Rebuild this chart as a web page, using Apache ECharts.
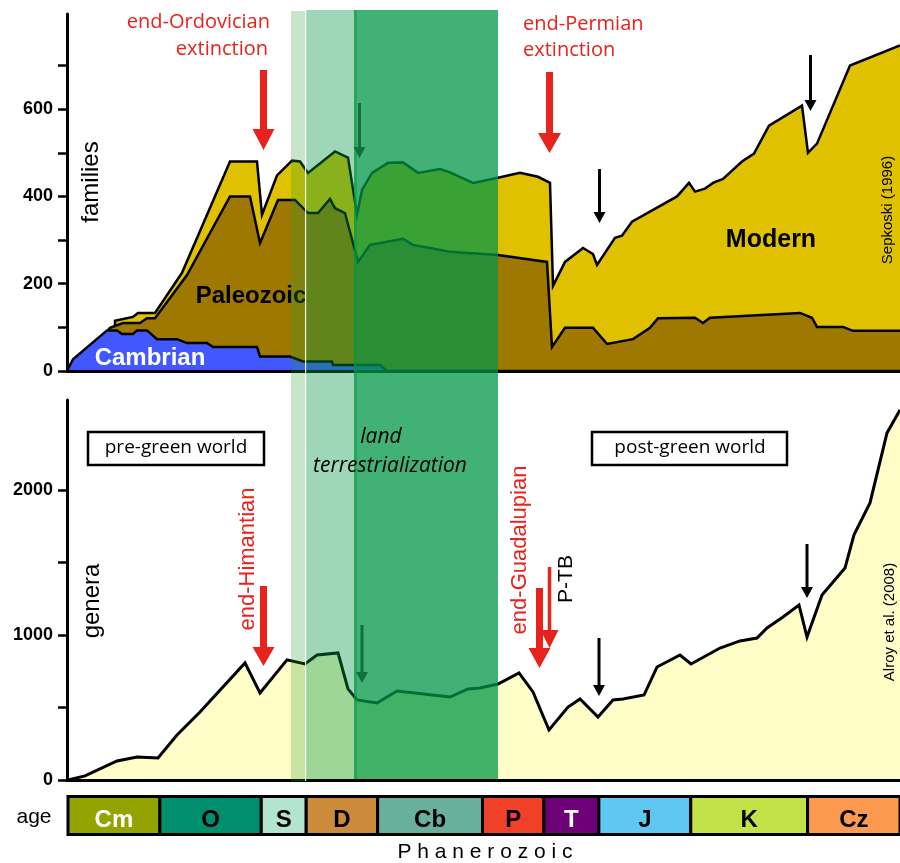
<!DOCTYPE html>
<html>
<head>
<meta charset="utf-8">
<script src="https://cdn.jsdelivr.net/npm/echarts@6/dist/echarts.min.js"></script>
<style>
  html, body { margin: 0; padding: 0; background: #fff; }
  #chart { width: 900px; height: 863px; }
</style>
</head>
<body>
<div id="chart"></div>
<script>
// Timeline units along the x axis: 0 = base of the Cambrian, 833 = present.
// Period widths follow the age bar drawn under the two panels.
const periodNames = ['Cm', 'O', 'S', 'D', 'Cb', 'P', 'T', 'J', 'K', 'Cz'];
const periodBounds = [0, 92, 193.5, 238.5, 310, 415, 476.5, 531.5, 623.5, 740.5, 833];

// Marine families (Sepkoski 1996), cumulative by evolutionary fauna: [time, families]
const cambrianFauna = [[0,0],[6,27],[40,93],[50,93],[55,85],[66,85],[70,93],[80,93],[90,73],[110,73],
  [120,64],[140,64],[146,55],[190,55],[193,33],[223,33],[236,22],[265,22],[266,14],[313,14],[320,0],[833,0]];
const paleozoicFauna = [[41,94],[43,99],[56,110],[73,110],[80,121],[88,121],[120,220],[163,400],[183,400],
  [193,293],[211,392],[228,392],[241,362],[251,362],[263,394],[268,373],[278,362],[291,250],[303,289],
  [336,303],[346,289],[363,282],[383,273],[431,266],[480,250],[485,55],[498,99],[526,99],[540,62],
  [566,73],[583,99],[591,121],[628,122],[636,110],[643,122],[733,133],[745,122],[750,101],[776,101],
  [786,92],[833,92]];
const modernFauna = [[48,103],[48,115],[66,124],[71,133],[88,133],[115,225],[163,480],[190,480],[195,358],
  [210,448],[225,482],[233,480],[241,454],[268,503],[281,489],[290,358],[295,415],[305,454],[321,477],
  [336,478],[351,454],[373,463],[383,455],[406,431],[431,443],[453,454],[471,445],[483,431],[486,195],
  [498,250],[516,282],[526,268],[530,243],[548,305],[555,310],[565,342],[610,400],[622,431],[628,411],
  [638,418],[646,431],[656,440],[675,480],[687,498],[702,562],[735,608],[741,500],[750,521],[783,700],
  [833,746]];

// Marine genera (Alroy et al. 2008): [time, genera]
const genera = [[1,0],[18,28],[50,131],[70,159],[91,152],[110,310],[133,469],[178,807],[193,600],[220,828],
  [238,800],[250,862],[271,876],[281,628],[290,552],[310,531],[330,614],[383,572],[401,628],[413,635],
  [431,662],[452,738],[466,607],[482,345],[501,503],[513,559],[531,434],[546,552],[556,559],[577,586],
  [590,779],[613,862],[624,800],[653,910],[673,959],[690,979],[700,1048],[716,1124],[732,1207],[740,986],
  [755,1276],[778,1462],[787,1690],[803,1910],[820,2393],[833,2552]];

// Axis ticks and labels
const familyTicks = [0, 100, 200, 300, 400, 500, 600, 700];
const familyLabels = [0, 200, 400, 600];
const generaTicks = [0, 500, 1000, 1500, 2000];
const generaLabels = [0, 1000, 2000];

// Phases of land terrestrialization, in timeline units
const landPhases = [[224, 238], [239, 287], [287, 431]];

// ---- styling ----
const periodColors = ['#93a400', '#008f6e', '#b3e4cf', '#cc8b3a', '#68b09c', '#f04128', '#6e0078', '#60c7f2', '#c2e348', '#fd9a52'];
const periodTextColors = ['#fff', '#000', '#000', '#000', '#000', '#000', '#fff', '#000', '#000', '#000'];
const phaseFills = ['rgba(40,160,45,0.26)', 'rgba(0,150,70,0.385)', 'rgba(0,150,70,0.74)'];
const RED = '#e8221c';
const SANS = '"Liberation Sans", Arial, sans-serif';
const HUMANIST = '"Open Sans", "Noto Sans", sans-serif';

const chart = echarts.init(document.getElementById('chart'), null, { renderer: 'canvas' });

function valueAxisY(gridIndex, max, ticks, labels) {
  return {
    gridIndex, type: 'value', min: 0, max, z: 3,
    axisLine: { show: true, lineStyle: { color: '#000', width: 3 } },
    axisTick: { show: true, length: 9, customValues: ticks, lineStyle: { color: '#000', width: 2.5 } },
    axisLabel: { customValues: labels, formatter: v => String(v), margin: 14, color: '#000',
      fontWeight: 'bold', fontSize: 18, fontFamily: SANS },
    splitLine: { show: false }
  };
}
function timeAxisX(gridIndex, showLine) {
  return {
    gridIndex, type: 'value', min: 0, max: 833, z: 3,
    axisLine: { show: showLine, onZero: false, lineStyle: { color: '#000', width: 3 } },
    axisTick: { show: false }, axisLabel: { show: false }, splitLine: { show: false }
  };
}
function areaLine(data, fill, width, xi) {
  return {
    type: 'line', xAxisIndex: xi, yAxisIndex: xi, data, showSymbol: false, silent: true,
    lineStyle: { color: '#000', width, join: 'miter', miterLimit: 6 },
    areaStyle: { color: fill, opacity: 1 }, z: 2
  };
}

chart.setOption({
  animation: false,
  grid: [
    { left: 67, top: 14, width: 833, height: 357 },
    { left: 67, top: 400, width: 833, height: 380 },
    { left: 68, top: 796.5, width: 832, height: 38 }
  ],
  xAxis: [timeAxisX(0, true), timeAxisX(1, true), timeAxisX(2, false)],
  yAxis: [
    valueAxisY(0, 818, familyTicks, familyLabels),
    valueAxisY(1, 2620, generaTicks, generaLabels),
    { gridIndex: 2, type: 'value', min: 0, max: 1, show: false }
  ],
  series: [
    areaLine(modernFauna, '#dfc100', 2.5, 0),
    areaLine(paleozoicFauna, '#9e7800', 2.5, 0),
    areaLine(cambrianFauna, '#4258ff', 2.5, 0),
    areaLine(genera, '#fffdc8', 3, 1),
    {
      type: 'custom', xAxisIndex: 2, yAxisIndex: 2, silent: true,
      data: periodNames.map((n, i) => [periodBounds[i], periodBounds[i + 1], i]),
      encode: { x: [0, 1] },
      renderItem: (params, api) => {
        const i = api.value(2);
        const a = api.coord([api.value(0), 1]);
        const b = api.coord([api.value(1), 0]);
        return {
          type: 'group',
          children: [
            { type: 'rect', shape: { x: a[0], y: a[1], width: b[0] - a[0], height: b[1] - a[1] },
              style: { fill: periodColors[i], stroke: '#000', lineWidth: 3 } },
            { type: 'text', style: { text: periodNames[i], x: (a[0] + b[0]) / 2, y: (a[1] + b[1]) / 2 + 4.5,
              align: 'center', verticalAlign: 'middle', fill: periodTextColors[i],
              font: 'bold 24px ' + SANS } }
          ]
        };
      }
    }
  ]
});

// ---- annotations ----
const xPx = u => chart.convertToPixel({ xAxisIndex: 0 }, u);

function text(str, x, y, opts) {
  return {
    type: 'text', x, y, rotation: opts.rot || 0, z: opts.z || 20,
    style: { text: str, x: 0, y: 0, fill: opts.color || '#000', font: opts.font,
      align: opts.align || 'center', verticalAlign: 'middle' }
  };
}
function arrow(x, y0, y1, shaft, head, headH, color, z) {
  const yb = y1 - headH;
  return {
    type: 'polygon', z: z || 20,
    shape: { points: [[x - shaft / 2, y0], [x + shaft / 2, y0], [x + shaft / 2, yb], [x + head / 2, yb],
      [x, y1], [x - head / 2, yb], [x - shaft / 2, yb]] },
    style: { fill: color }
  };
}
function box(x0, y0, x1, y1) {
  return { type: 'rect', z: 20, shape: { x: x0, y: y0, width: x1 - x0, height: y1 - y0 },
    style: { fill: '#fff', stroke: '#000', lineWidth: 2.5 } };
}

const BAND_TOP = 10, BAND_BOTTOM = 779;
const elements = [];

// green phases over both panels
landPhases.forEach((p, i) => {
  const x0 = xPx(p[0]), x1 = xPx(p[1]);
  elements.push({ type: 'rect', z: 10, silent: true,
    shape: { x: x0, y: BAND_TOP + (i === 0 ? 1 : 0), width: x1 - x0, height: BAND_BOTTOM - BAND_TOP + (i === 0 ? 1.5 : 0) },
    style: { fill: phaseFills[i] } });
});
elements.push({ type: 'rect', z: 11, shape: { x: xPx(landPhases[0][1]), y: BAND_TOP, width: 1.2, height: BAND_BOTTOM - BAND_TOP + 2 },
  style: { fill: 'rgba(255,255,255,0.9)' } });
elements.push({ type: 'rect', z: 11, shape: { x: xPx(landPhases[2][0]), y: BAND_TOP, width: 3, height: BAND_BOTTOM - BAND_TOP },
  style: { fill: 'rgba(0,150,70,0.45)' } });

// fauna names (under the green phases)
elements.push(text('Cambrian', 150, 358, { font: 'bold 24px ' + SANS, color: '#fff', z: 5 }));
elements.push(text('Paleozoic', 251, 296, { font: 'bold 24px ' + SANS, z: 5 }));
elements.push(text('Modern', 771, 240, { font: 'bold 25px ' + SANS, z: 5 }));

// axis titles and sources
elements.push(text('families', 91, 182, { font: '24px ' + SANS, rot: Math.PI / 2 }));
elements.push(text('genera', 92, 601, { font: '24px ' + SANS, rot: Math.PI / 2 }));
elements.push(text('Sepkoski (1996)', 888, 210, { font: '15px ' + SANS, rot: Math.PI / 2 }));
elements.push(text('Alroy et al. (2008)', 890, 622, { font: '15px ' + SANS, rot: Math.PI / 2 }));

// extinction events
elements.push(text('end-Ordovician', 270, 22, { font: '20px ' + HUMANIST, color: RED, align: 'right' }));
elements.push(text('extinction', 268, 49, { font: '20px ' + HUMANIST, color: RED, align: 'right' }));
elements.push(text('end-Permian', 523, 24, { font: '20px ' + HUMANIST, color: RED, align: 'left' }));
elements.push(text('extinction', 523, 50, { font: '20px ' + HUMANIST, color: RED, align: 'left' }));
elements.push(text('end-Himantian', 248, 559, { font: '22px ' + SANS, color: RED, rot: Math.PI / 2 }));
elements.push(text('end-Guadalupian', 520, 550, { font: '22px ' + SANS, color: RED, rot: Math.PI / 2 }));
elements.push(text('P-TB', 566, 579, { font: '21px ' + SANS, rot: Math.PI / 2 }));

elements.push(arrow(263.5, 70, 150, 7, 22, 21, RED));
elements.push(arrow(549.5, 72, 153, 7, 23, 20, RED));
elements.push(arrow(263.5, 586, 666, 7, 22, 19, RED));
elements.push(arrow(539.5, 588, 668, 7, 22, 20, RED));
elements.push(arrow(549.5, 567, 648, 3.5, 18, 18, RED));

elements.push(arrow(599.5, 169, 223, 3, 12, 11, '#000'));
elements.push(arrow(810.5, 55, 111, 3, 12, 11, '#000'));
elements.push(arrow(599, 638, 696, 3, 12, 11, '#000'));
elements.push(arrow(807, 544, 598, 3, 12, 11, '#000'));
elements.push(arrow(359.5, 103, 158, 3, 12, 11, '#13703c'));
elements.push(arrow(362, 625, 683, 3, 12, 11, '#13703c'));

// worlds and terrestrialization
elements.push(box(88, 432, 264, 465));
elements.push(text('pre-green world', 176, 448, { font: '19px ' + HUMANIST }));
elements.push(box(592, 432, 787, 465));
elements.push(text('post-green world', 690, 448, { font: '19px ' + HUMANIST }));
elements.push(text('land', 381, 437, { font: 'italic 21px ' + HUMANIST }));
elements.push(text('terrestrialization', 390, 466, { font: 'italic 21px ' + HUMANIST }));

// age bar captions
elements.push(text('age', 34, 817, { font: '21px ' + SANS }));
elements.push(text('P h a n e r o z o i c', 485, 852, { font: '21px ' + SANS }));

chart.setOption({ graphic: { elements } });
</script>
</body>
</html>
